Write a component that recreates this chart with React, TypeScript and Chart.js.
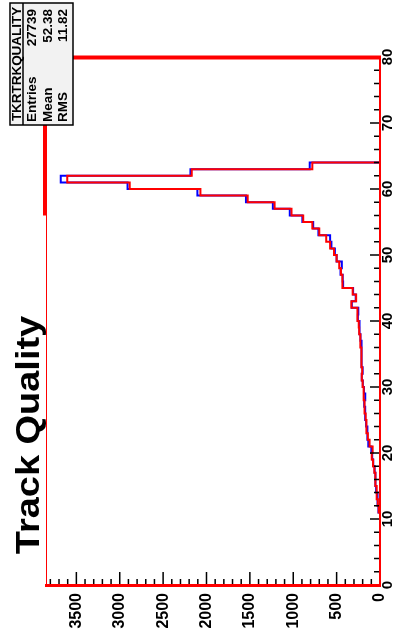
import { useEffect, useRef } from "react";
import { Chart, registerables } from "chart.js";

Chart.register(...registerables);

// Track quality axis (vertical) and entry-count axis (horizontal, growing to the left)
const QUALITY_MIN = 0;
const QUALITY_MAX = 80;
const QUALITY_LABEL_STEP = 10;
const QUALITY_MINOR_STEP = 2;
const qualityTicks = [0, 10, 20, 30, 40, 50, 60, 70, 80];
const COUNT_MAX = 3850;
const COUNT_LABEL_STEP = 500;
const COUNT_MINOR_STEP = 100;
const countTicks = [0, 500, 1000, 1500, 2000, 2500, 3000, 3500];

// Histogram bins of width 1, starting at quality 11 (all other bins are empty)
const FIRST_BIN = 11;
const BIN_WIDTH = 1;
const redCounts = [
  15, 25, 35, 40, 50, 55, 65, 80, 95, 85, // 11-20
  120, 140, 150, 160, 165, 175, 180, 185, 190, 200, // 21-30
  210, 205, 210, 215, 215, 220, 230, 240, 245, 260, // 31-40
  260, 330, 275, 315, 430, 435, 450, 470, 500, 530, // 41-50
  575, 620, 700, 780, 885, 1020, 1215, 1525, 2070, 2885, // 51-60
  3605, 2170, 780, // 61-63
];
const blueCounts = [
  18, 25, 30, 45, 48, 55, 62, 78, 90, 100, // 11-20
  135, 140, 148, 160, 168, 172, 182, 170, 185, 198, // 21-30
  210, 200, 212, 208, 218, 212, 225, 232, 238, 255, // 31-40
  250, 325, 280, 310, 425, 430, 455, 440, 500, 520, // 41-50
  560, 575, 710, 770, 895, 1040, 1235, 1545, 2105, 2910, // 51-60
  3680, 2185, 810, // 61-63
];

// Accent on the frame: thick left edge from this quality up to the top
const FRAME_ACCENT_FROM = 56;

const chartTitle = "Track Quality";
const statsTitle = "TKRTRKQUALITY";
const statsLabels = ["Entries", "Mean", "RMS"];
const statsValues = ["27739", "52.38", "11.82"];

const FONT = "'Liberation Sans', Arial, Helvetica, sans-serif";

// Histogram outline: each bin contributes its two edges at its count
function outline(counts: number[]) {
  const pts: { x: number; y: number }[] = [{ x: 0, y: FIRST_BIN }];
  counts.forEach((c, i) => {
    const lo = FIRST_BIN + i * BIN_WIDTH;
    pts.push({ x: c, y: lo }, { x: c, y: lo + BIN_WIDTH });
  });
  pts.push({ x: 0, y: FIRST_BIN + counts.length * BIN_WIDTH });
  return pts;
}

function rotatedText(
  ctx: CanvasRenderingContext2D,
  text: string,
  x: number,
  y: number,
  font: string,
  align: CanvasTextAlign,
  stretch: number
) {
  ctx.save();
  ctx.translate(x, y);
  ctx.rotate(-Math.PI / 2);
  ctx.scale(stretch, 1);
  ctx.font = font;
  ctx.textAlign = align;
  ctx.textBaseline = "alphabetic";
  ctx.fillStyle = "#000";
  ctx.fillText(text, 0, 0);
  ctx.restore();
}

const framePlugin = {
  id: "histFrame",
  afterDatasetsDraw(chart: any) {
    const { ctx, chartArea: a, scales } = chart;
    const xs = scales.x;
    const ys = scales.y;
    ctx.save();
    // tick marks pointing into the frame
    ctx.strokeStyle = "#000";
    ctx.lineWidth = 1.5;
    ctx.beginPath();
    for (let q = QUALITY_MIN; q <= QUALITY_MAX; q += QUALITY_MINOR_STEP) {
      const py = ys.getPixelForValue(q);
      const len = q % QUALITY_LABEL_STEP === 0 ? 10 : 6;
      ctx.moveTo(a.right, py);
      ctx.lineTo(a.right - len, py);
    }
    for (let c = 0; c <= COUNT_MAX; c += COUNT_MINOR_STEP) {
      const px = xs.getPixelForValue(c);
      const len = c % COUNT_LABEL_STEP === 0 ? 13 : 6;
      ctx.moveTo(px, a.bottom);
      ctx.lineTo(px, a.bottom - len);
    }
    ctx.stroke();

    // red frame
    ctx.strokeStyle = "#ff0000";
    ctx.lineCap = "butt";
    ctx.lineWidth = 1;
    ctx.beginPath();
    ctx.moveTo(a.left + 0.5, a.top);
    ctx.lineTo(a.left + 0.5, a.bottom);
    ctx.stroke();
    ctx.lineWidth = 2;
    ctx.beginPath();
    ctx.moveTo(a.right, a.top);
    ctx.lineTo(a.right, a.bottom + 1);
    ctx.stroke();
    ctx.lineWidth = 3;
    ctx.beginPath();
    ctx.moveTo(a.left - 1, a.bottom + 0.5);
    ctx.lineTo(a.right + 1, a.bottom + 0.5);
    ctx.stroke();
    ctx.lineWidth = 4;
    ctx.beginPath();
    ctx.moveTo(a.left - 1, ys.getPixelForValue(FRAME_ACCENT_FROM));
    ctx.lineTo(a.left - 1, a.top + 0.5);
    ctx.lineTo(a.right + 1, a.top + 0.5);
    ctx.stroke();
    ctx.restore();
  },
  afterDraw(chart: any) {
    const { ctx } = chart;
    ctx.save();
    // histogram title, running upward along the left side
    rotatedText(ctx, chartTitle, 39, 435, `bold 33px ${FONT}`, "center", 1.15);

    // statistics box
    const bx = 10, by = 3, bw = 63, bh = 122;
    ctx.fillStyle = "#f2f2f2";
    ctx.fillRect(bx, by, bw, bh);
    ctx.strokeStyle = "#000";
    ctx.lineWidth = 1.5;
    ctx.strokeRect(bx, by, bw, bh);
    ctx.beginPath();
    ctx.moveTo(bx + 13, by);
    ctx.lineTo(bx + 13, by + bh);
    ctx.stroke();
    const sFont = `bold 12px ${FONT}`;
    rotatedText(ctx, statsTitle, bx + 11, by + bh / 2, sFont, "center", 1.12);
    const rowBase = [35.5, 51.5, 67];
    statsLabels.forEach((lab, i) => {
      rotatedText(ctx, lab, rowBase[i], by + bh - 3, sFont, "left", 1.12);
      rotatedText(ctx, statsValues[i], rowBase[i], by + 6, sFont, "right", 1.12);
    });
    ctx.restore();
  },
};

export default function App() {
  const canvasRef = useRef<HTMLCanvasElement | null>(null);

  useEffect(() => {
    const canvas = canvasRef.current;
    if (!canvas) return;
    Chart.defaults.font.family = FONT;
    const chart = new Chart(canvas, {
      type: "scatter",
      data: {
        datasets: [
          {
            label: "red",
            data: outline(redCounts),
            showLine: true,
            borderColor: "#ff0000",
            borderWidth: 2,
            pointRadius: 0,
            fill: false,
            tension: 0,
            order: 0,
          },
          {
            label: "blue",
            data: outline(blueCounts),
            showLine: true,
            borderColor: "#0000ff",
            borderWidth: 2,
            pointRadius: 0,
            fill: false,
            tension: 0,
            order: 1,
          },
        ],
      },
      options: {
        animation: false,
        responsive: false,
        devicePixelRatio: 1,
        layout: { padding: { left: 46, top: 57, right: 0, bottom: 0 } },
        plugins: {
          legend: { display: false },
          tooltip: { enabled: false },
          title: { display: false },
        },
        scales: {
          x: {
            type: "linear",
            position: "bottom",
            reverse: true,
            min: 0,
            max: COUNT_MAX,
            grid: { display: false, drawTicks: false },
            border: { display: false },
            afterBuildTicks: (scale: any) => {
              scale.ticks = countTicks.map((v) => ({ value: v }));
            },
            ticks: {
              autoSkip: false,
              minRotation: 90,
              maxRotation: 90,
              padding: 8,
              color: "#000",
              font: { size: 16, weight: "bold", family: FONT },
              callback: (v: any) => String(v),
            },
            afterFit: (scale: any) => {
              scale.height = 55;
            },
          },
          y: {
            type: "linear",
            position: "right",
            min: QUALITY_MIN,
            max: QUALITY_MAX,
            grid: { display: false, drawTicks: false },
            border: { display: false },
            afterBuildTicks: (scale: any) => {
              scale.ticks = qualityTicks.map((v) => ({ value: v }));
            },
            ticks: {
              autoSkip: false,
              minRotation: 90,
              maxRotation: 90,
              crossAlign: "center",
              padding: 0,
              color: "#000",
              font: { size: 15, weight: "bold", family: FONT },
              callback: (v: any) => String(v),
            },
            afterFit: (scale: any) => {
              scale.width = 18;
            },
          },
        },
      },
      plugins: [framePlugin],
    } as any);
    return () => chart.destroy();
  }, []);

  return (
    <div
      style={{
        position: "fixed",
        left: 0,
        top: 0,
        width: 398,
        height: 640,
        background: "#fff",
      }}
    >
      <canvas
        ref={canvasRef}
        width={398}
        height={640}
        style={{ display: "block", width: 398, height: 640 }}
      />
    </div>
  );
}
